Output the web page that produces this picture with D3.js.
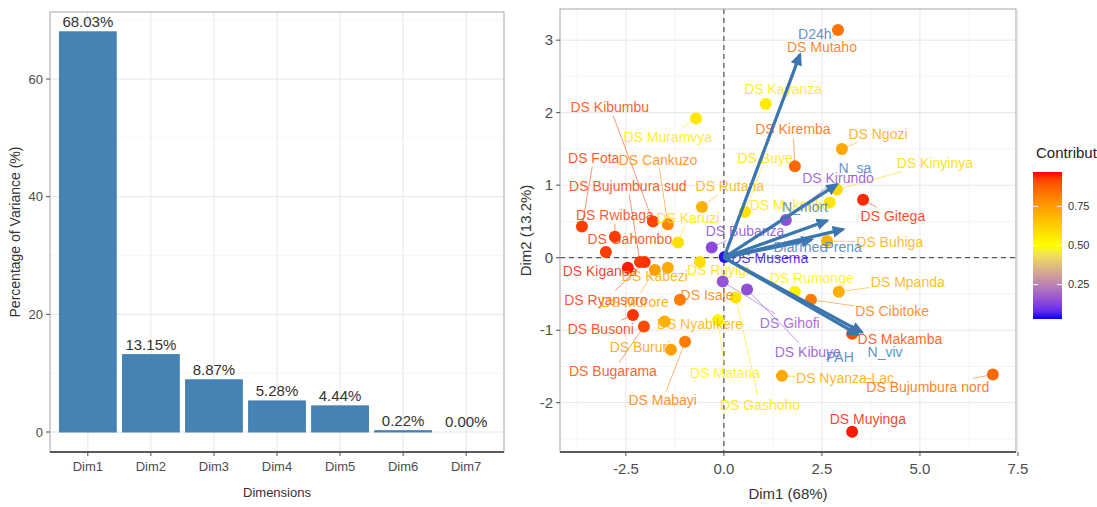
<!DOCTYPE html>
<html>
<head>
<meta charset="utf-8">
<script src="https://cdn.jsdelivr.net/npm/d3@7"></script>
<style>
  html, body { margin: 0; padding: 0; background: #fff; }
  svg { display: block; font-family: "Liberation Sans", Arial, sans-serif; }
</style>
</head>
<body>
<svg id="chart" width="1097" height="507"></svg>
<script>
// Scree plot data
const dims = ['Dim1', 'Dim2', 'Dim3', 'Dim4', 'Dim5', 'Dim6', 'Dim7'];
const variance = [68.03, 13.15, 8.87, 5.28, 4.44, 0.22, 0.00];
const screeTicks = [0, 20, 40, 60];

// Biplot: individuals (health districts)
const indNames = ['DS Mutaho', 'DS Kayanza', 'DS Kiremba', 'DS Ngozi', 'DS Kinyinya', 'DS Kirundo', 'DS Gitega',
    'DS Buhiga', 'DS Muramvya', 'DS Kibumbu', 'DS Cankuzo', 'DS Buye', 'DS Fota', 'DS Bujumbura sud', 'DS Rutana',
    'DS Rwibaga', 'DS Gahombo', 'DS Bubanza', 'DS Musema', 'DS Kiganda', 'DS Ryansoro', 'DS Murore', 'DS Kabezi',
    'DS Ruyigi', 'DS Karuzi', 'DS Rumonge', 'DS Mpanda', 'DS Cibitoke', 'DS Makamba', 'DS Kibuye', 'DS Gihofi',
    'DS Isale', 'DS Nyabikere', 'DS Busoni', 'DS Bururi', 'DS Bugarama', 'DS Mabayi', 'DS Matana', 'DS Gashoho',
    'DS Nyanza-Lac', 'DS Bujumbura nord', 'DS Muyinga', 'DS Mukenke'];
const indX = [2.91, 1.07, 1.81, 3.01, 2.88, 1.58, 3.55, 2.63, -0.71, -1.81, -1.43, 0.54, -3.62, -2.14, -0.56,
    -2.78, -3.01, -0.31, 0.02, -2.45, -2.02, -1.76, -1.43, -0.61, -1.17, 1.81, 2.93, 2.22, 3.27, 0.59, -0.03,
    -1.12, -1.51, -2.32, -1.35, -2.04, -0.99, -0.15, 0.30, 1.48, 6.86, 3.27, 2.70];
const indY = [3.14, 2.12, 1.26, 1.50, 0.94, 0.52, 0.80, 0.23, 1.92, 0.50, 0.46, 0.63, 0.43, -0.06, 0.70,
    0.29, 0.08, 0.14, 0.01, -0.14, -0.06, -0.17, -0.14, -0.06, 0.21, -0.47, -0.47, -0.58, -1.05, -0.44, -0.33,
    -0.58, -0.88, -0.79, -1.27, -0.95, -1.16, -0.86, -0.55, -1.63, -1.61, -2.40, 0.76];
const indContrib = [0.84, 0.55, 0.86, 0.72, 0.60, 0.15, 0.95, 0.70, 0.56, 0.92, 0.80, 0.57, 0.93, 0.93, 0.70,
    0.93, 0.93, 0.14, 0.04, 0.96, 0.94, 0.74, 0.72, 0.58, 0.58, 0.53, 0.70, 0.82, 0.91, 0.15, 0.16,
    0.82, 0.70, 0.94, 0.74, 0.91, 0.82, 0.52, 0.57, 0.72, 0.86, 0.96, 0.56];
// repelled label positions (data units)
const labX = [2.50, 1.51, 1.76, 3.93, 5.38, 2.91, 4.31, 4.23, -1.43, -2.91, -1.68, 1.05, -3.32, -2.45, 0.15,
    -2.78, -2.40, 0.54, 1.17, -3.16, -3.01, -2.27, -1.76, -0.15, -0.92, 2.24, 4.69, 4.29, 4.49, 2.14, 1.68,
    -0.43, -0.61, -3.14, -2.14, -2.83, -1.56, 0.03, 0.92, 3.09, 5.20, 3.67, 1.68];
const labY = [2.90, 2.32, 1.77, 1.71, 1.31, 1.10, 0.57, 0.21, 1.67, 2.08, 1.35, 1.37, 1.38, 0.99, 0.99,
    0.59, 0.25, 0.36, 0.00, -0.18, -0.58, -0.61, -0.25, -0.17, 0.55, -0.28, -0.34, -0.74, -1.12, -1.30, -0.90,
    -0.52, -0.91, -0.99, -1.23, -1.57, -1.97, -1.59, -2.04, -1.66, -1.79, -2.23, 0.73];

// Biplot: variables
const varNames = ['D24h', 'N_sa', 'N_mort', 'Prena', 'Diarrhee', 'PAH', 'N_viv'];
const varX = [1.94, 2.88, 2.63, 3.04, 2.24, 3.42, 3.52];
const varY = [2.80, 1.01, 0.51, 0.39, 0.25, -1.06, -1.03];
const varLabX = [2.32, 3.34, 2.07, 3.04, 1.95, 2.96, 4.11];
const varLabY = [3.08, 1.24, 0.70, 0.14, 0.14, -1.37, -1.30];

const xTicks = [-2.5, 0, 2.5, 5, 7.5];
const yTicks = [-2, -1, 0, 1, 2, 3];
const legendTicks = [0.25, 0.5, 0.75];

const svg = d3.select('#chart');
const axisCol = '#4d4d4d';
const gridMajor = '#e6e6e6';
const gridMinor = '#f3f3f3';

// ---------- Scree plot ----------
const L = { left: 50, right: 504, top: 12, bottom: 452 };
const step = (L.right - L.left) / (dims.length + 0.2);
const xs = d3.scalePoint().domain(dims).range([L.left + 0.6 * step, L.right - 0.6 * step]);
const ys = d3.scaleLinear().domain([-3.4, 71.4]).range([L.bottom, L.top]);
const barW = 0.9 * step;

const left = svg.append('g');

left.selectAll('.minor')
    .data([10, 30, 50, 70])
    .join('line')
    .attr('x1', L.left).attr('x2', L.right)
    .attr('y1', d => ys(d)).attr('y2', d => ys(d))
    .attr('stroke', gridMinor).attr('stroke-width', 0.7);
left.selectAll('.major')
    .data(screeTicks)
    .join('line')
    .attr('x1', L.left).attr('x2', L.right)
    .attr('y1', d => ys(d)).attr('y2', d => ys(d))
    .attr('stroke', gridMajor).attr('stroke-width', 1);
left.selectAll('.vgrid')
    .data(dims)
    .join('line')
    .attr('x1', d => xs(d)).attr('x2', d => xs(d))
    .attr('y1', L.top).attr('y2', L.bottom)
    .attr('stroke', gridMajor).attr('stroke-width', 1);

left.selectAll('.bar')
    .data(dims)
    .join('rect')
    .attr('x', d => xs(d) - barW / 2)
    .attr('width', barW)
    .attr('y', (d, i) => ys(variance[i]))
    .attr('height', (d, i) => Math.max(ys(0) - ys(variance[i]), 0))
    .attr('fill', '#4682B4')
    .attr('stroke', (d, i) => variance[i] > 0 ? '#4682B4' : 'none');

left.selectAll('.barlab')
    .data(dims)
    .join('text')
    .attr('x', d => xs(d))
    .attr('y', (d, i) => ys(variance[i]) - 5)
    .attr('text-anchor', 'middle')
    .attr('font-size', '15px')
    .attr('fill', '#333')
    .text((d, i) => variance[i].toFixed(2) + '%');

left.append('rect')
    .attr('x', L.left).attr('y', L.top)
    .attr('width', L.right - L.left).attr('height', L.bottom - L.top)
    .attr('fill', 'none').attr('stroke', '#a6a6a6').attr('stroke-width', 1);
left.append('line')
    .attr('x1', L.left).attr('x2', L.right)
    .attr('y1', L.bottom).attr('y2', L.bottom)
    .attr('stroke', '#333').attr('stroke-width', 1.5);

// ticks and labels
left.selectAll('.ytick')
    .data(screeTicks)
    .join('line')
    .attr('x1', L.left - 4).attr('x2', L.left)
    .attr('y1', d => ys(d)).attr('y2', d => ys(d))
    .attr('stroke', axisCol);
left.selectAll('.ylab')
    .data(screeTicks)
    .join('text')
    .attr('x', L.left - 7)
    .attr('y', d => ys(d))
    .attr('dy', '0.35em')
    .attr('text-anchor', 'end')
    .attr('font-size', '13px')
    .attr('fill', axisCol)
    .text(d => d);
left.selectAll('.xtick')
    .data(dims)
    .join('line')
    .attr('x1', d => xs(d)).attr('x2', d => xs(d))
    .attr('y1', L.bottom).attr('y2', L.bottom + 4)
    .attr('stroke', axisCol);
left.selectAll('.xlab')
    .data(dims)
    .join('text')
    .attr('x', d => xs(d))
    .attr('y', L.bottom + 19)
    .attr('text-anchor', 'middle')
    .attr('font-size', '13px')
    .attr('fill', axisCol)
    .text(d => d);
left.append('text')
    .attr('x', (L.left + L.right) / 2)
    .attr('y', 497)
    .attr('text-anchor', 'middle')
    .attr('font-size', '13px')
    .attr('fill', '#333')
    .text('Dimensions');
left.append('text')
    .attr('transform', `translate(20,${(L.top + L.bottom) / 2}) rotate(-90)`)
    .attr('text-anchor', 'middle')
    .attr('font-size', '14px')
    .attr('fill', '#333')
    .text('Percentage of Variance (%)');

// ---------- Biplot ----------
const R = { left: 560, right: 1016, top: 9, bottom: 452 };
const bx = d3.scaleLinear().domain([-4.18, 7.45]).range([R.left, R.right]);
const by = d3.scaleLinear().domain([-2.68, 3.43]).range([R.bottom, R.top]);
const contribColor = d3.scaleLinear()
    .domain([0.03, 0.5, 0.97])
    .range(['#0000FF', '#FFFF00', '#FF0000'])
    .interpolate(d3.interpolateLab);

const right = svg.append('g');
const defs = right.append('defs');
defs.append('clipPath').attr('id', 'clipR')
    .append('rect')
    .attr('x', R.left).attr('y', R.top)
    .attr('width', R.right - R.left).attr('height', R.bottom - R.top);

const xMinor = [-3.75, -1.25, 1.25, 3.75, 6.25];
const yMinor = [-2.5, -1.5, -0.5, 0.5, 1.5, 2.5];
right.selectAll('.vminor').data(xMinor).join('line')
    .attr('x1', d => bx(d)).attr('x2', d => bx(d)).attr('y1', R.top).attr('y2', R.bottom)
    .attr('stroke', gridMinor).attr('stroke-width', 0.8);
right.selectAll('.hminor').data(yMinor).join('line')
    .attr('x1', R.left).attr('x2', R.right).attr('y1', d => by(d)).attr('y2', d => by(d))
    .attr('stroke', gridMinor).attr('stroke-width', 0.8);
right.selectAll('.vmajor').data(xTicks).join('line')
    .attr('x1', d => bx(d)).attr('x2', d => bx(d)).attr('y1', R.top).attr('y2', R.bottom)
    .attr('stroke', gridMajor).attr('stroke-width', 1);
right.selectAll('.hmajor').data(yTicks).join('line')
    .attr('x1', R.left).attr('x2', R.right).attr('y1', d => by(d)).attr('y2', d => by(d))
    .attr('stroke', gridMajor).attr('stroke-width', 1);

// dashed zero lines
right.append('line')
    .attr('x1', bx(0)).attr('x2', bx(0)).attr('y1', R.top).attr('y2', R.bottom)
    .attr('stroke', '#333').attr('stroke-dasharray', '5,4').attr('stroke-width', 1);
right.append('line')
    .attr('x1', R.left).attr('x2', R.right).attr('y1', by(0)).attr('y2', by(0))
    .attr('stroke', '#333').attr('stroke-dasharray', '5,4').attr('stroke-width', 1);

const plot = right.append('g').attr('clip-path', 'url(#clipR)');
const segG = plot.append('g');
const dotG = plot.append('g');
const labG = plot.append('g');

dotG.selectAll('circle')
    .data(indNames)
    .join('circle')
    .attr('cx', (d, i) => bx(indX[i]))
    .attr('cy', (d, i) => by(indY[i]))
    .attr('r', 6)
    .attr('fill', (d, i) => contribColor(indContrib[i]));

const labels = labG.selectAll('text')
    .data(indNames)
    .join('text')
    .attr('x', (d, i) => bx(labX[i]))
    .attr('y', (d, i) => by(labY[i]))
    .attr('dy', '0.35em')
    .attr('text-anchor', 'middle')
    .attr('font-size', '14px')
    .attr('fill', (d, i) => contribColor(indContrib[i]))
    .attr('fill-opacity', 0.85)
    .text(d => d);

// repel-style segments from point to label box edge
labels.each(function (d, i) {
    const b = this.getBBox();
    const px = bx(indX[i]), py = by(indY[i]);
    const cx = b.x + b.width / 2, cy = b.y + b.height / 2;
    const dx = px - cx, dy = py - cy;
    const hw = b.width / 2 + 1, hh = b.height / 2 + 1;
    if (Math.abs(dx) <= hw && Math.abs(dy) <= hh) return;
    const t = Math.min(dx !== 0 ? hw / Math.abs(dx) : Infinity, dy !== 0 ? hh / Math.abs(dy) : Infinity);
    const ex = cx + dx * t, ey = cy + dy * t;
    if (Math.hypot(px - ex, py - ey) < 8) return;
    segG.append('line')
        .attr('x1', px).attr('y1', py).attr('x2', ex).attr('y2', ey)
        .attr('stroke', contribColor(indContrib[i]))
        .attr('stroke-opacity', 0.7)
        .attr('stroke-width', 0.8);
});

// variable arrows
const arrowCol = '#3B76AF';
defs.append('marker')
    .attr('id', 'arrowhead')
    .attr('viewBox', '0 -5 10 10')
    .attr('refX', 8).attr('refY', 0)
    .attr('markerUnits', 'userSpaceOnUse')
    .attr('markerWidth', 13).attr('markerHeight', 13)
    .attr('orient', 'auto')
    .append('path')
    .attr('d', 'M0,-4.5L10,0L0,4.5Z')
    .attr('fill', arrowCol);

plot.append('g').selectAll('line')
    .data(varNames)
    .join('line')
    .attr('x1', bx(0)).attr('y1', by(0))
    .attr('x2', (d, i) => bx(varX[i]))
    .attr('y2', (d, i) => by(varY[i]))
    .attr('stroke', arrowCol)
    .attr('stroke-width', 3.2)
    .attr('marker-end', 'url(#arrowhead)');

plot.append('g').selectAll('text')
    .data(varNames)
    .join('text')
    .attr('x', (d, i) => bx(varLabX[i]))
    .attr('y', (d, i) => by(varLabY[i]))
    .attr('dy', '0.35em')
    .attr('text-anchor', 'middle')
    .attr('font-size', '14px')
    .attr('fill', '#4A86C0')
    .attr('fill-opacity', 0.9)
    .text(d => d);

// frame and axes
right.append('rect')
    .attr('x', R.left).attr('y', R.top)
    .attr('width', R.right - R.left).attr('height', R.bottom - R.top)
    .attr('fill', 'none').attr('stroke', '#a6a6a6').attr('stroke-width', 1);
right.append('line')
    .attr('x1', R.left).attr('x2', R.right).attr('y1', R.bottom).attr('y2', R.bottom)
    .attr('stroke', '#333').attr('stroke-width', 1.5);

right.selectAll('.bxt').data(xTicks).join('line')
    .attr('x1', d => bx(d)).attr('x2', d => bx(d)).attr('y1', R.bottom).attr('y2', R.bottom + 4)
    .attr('stroke', axisCol);
right.selectAll('.bxl').data(xTicks).join('text')
    .attr('x', d => bx(d)).attr('y', R.bottom + 22)
    .attr('text-anchor', 'middle')
    .attr('font-size', '15px').attr('fill', axisCol)
    .text(d => d3.format('.1f')(d).replace('−', '-'));
right.selectAll('.byt').data(yTicks).join('line')
    .attr('x1', R.left - 4).attr('x2', R.left).attr('y1', d => by(d)).attr('y2', d => by(d))
    .attr('stroke', axisCol);
right.selectAll('.byl').data(yTicks).join('text')
    .attr('x', R.left - 7).attr('y', d => by(d)).attr('dy', '0.35em')
    .attr('text-anchor', 'end')
    .attr('font-size', '15px').attr('fill', axisCol)
    .text(d => d);
right.append('text')
    .attr('x', (R.left + R.right) / 2).attr('y', 499)
    .attr('text-anchor', 'middle')
    .attr('font-size', '15px').attr('fill', '#333')
    .text('Dim1 (68%)');
right.append('text')
    .attr('transform', `translate(531,${(R.top + R.bottom) / 2}) rotate(-90)`)
    .attr('text-anchor', 'middle')
    .attr('font-size', '15px').attr('fill', '#333')
    .text('Dim2 (13.2%)');

// colour legend
const lg = { x: 1033, w: 29, top: 172, bottom: 319 };
const ly = d3.scaleLinear().domain([0.03, 0.97]).range([lg.bottom, lg.top]);
const grad = defs.append('linearGradient')
    .attr('id', 'contribGrad')
    .attr('x1', 0).attr('y1', 1).attr('x2', 0).attr('y2', 0);
d3.range(0, 1.0001, 0.05).forEach(t => {
    grad.append('stop')
        .attr('offset', t)
        .attr('stop-color', contribColor(0.03 + t * 0.94));
});
right.append('text')
    .attr('x', 1036).attr('y', 158)
    .attr('font-size', '15px').attr('fill', '#222')
    .text('Contribution');
right.append('rect')
    .attr('x', lg.x).attr('y', lg.top)
    .attr('width', lg.w).attr('height', lg.bottom - lg.top)
    .attr('fill', 'url(#contribGrad)');
legendTicks.forEach(v => {
    right.append('line')
        .attr('x1', lg.x).attr('x2', lg.x + 5)
        .attr('y1', ly(v)).attr('y2', ly(v))
        .attr('stroke', '#fff');
    right.append('line')
        .attr('x1', lg.x + lg.w - 5).attr('x2', lg.x + lg.w)
        .attr('y1', ly(v)).attr('y2', ly(v))
        .attr('stroke', '#fff');
    right.append('text')
        .attr('x', lg.x + lg.w + 6).attr('y', ly(v)).attr('dy', '0.35em')
        .attr('font-size', '11px').attr('fill', '#333')
        .text(v.toFixed(2));
});
</script>
</body>
</html>
